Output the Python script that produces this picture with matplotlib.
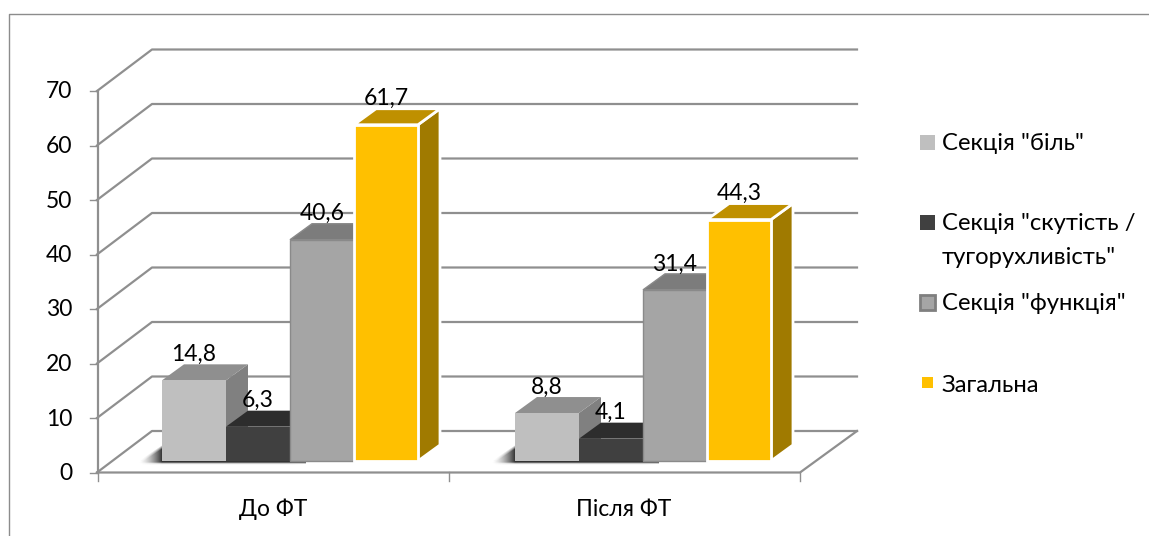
import matplotlib
matplotlib.use("Agg")
import matplotlib.pyplot as plt
import numpy as np
from matplotlib.patches import Polygon, Rectangle

plt.rcParams["font.family"] = ["Lato", "Open Sans", "DejaVu Sans"]

groups = ["До ФТ", "Після ФТ"]
pain = [14.8, 8.8]
stiffness = [6.3, 4.1]
function = [40.6, 31.4]
total = [61.7, 44.3]
y_ticks = [0, 10, 20, 30, 40, 50, 60, 70]
legend_labels = ['Секція "біль"', 'Секція "скутість /\nтугорухливість"', 'Секція "функція"', "Загальна"]

GRID = "#8f8f8f"
FS = 16.5
LEGEND_FS = 17.2
DEPTH_X, DEPTH_Y = 22, -16
GROUP_LEFT = [162, 515]
BAR_W = 64


def axis_y(v):
    return 472.5 - v * 54.5 / 10


def bar_y(v):
    return 461 - v * 5.45


def draw_bar(ax, x, v, front, top, side, edge=None, lw=0):
    y = bar_y(v)
    w = BAR_W
    ec = edge if edge else "none"
    ax.add_patch(Polygon([(x + w, y), (x + w + DEPTH_X, y + DEPTH_Y),
                          (x + w + DEPTH_X, 461 + DEPTH_Y), (x + w, 461)],
                         fc=side, ec=ec, lw=lw, zorder=3))
    ax.add_patch(Polygon([(x, y), (x + DEPTH_X, y + DEPTH_Y),
                          (x + w + DEPTH_X, y + DEPTH_Y), (x + w, y)],
                         fc=top, ec=ec, lw=lw, zorder=3))
    ax.add_patch(Rectangle((x, y), w, 461 - y, fc=front, ec=ec, lw=lw, zorder=3))


def floor_shadow(ax, left):
    # fades out to the left of the group, with a faint band under the bars
    xs = np.arange(left - 24, left + 2 * BAR_W + 16) + 0.5
    ys = np.arange(444, 466) + 0.5
    xx, yy = np.meshgrid(xs, ys)
    u = np.clip((xx - (left - 24)) / 24, 0, 1)
    top_edge = 461 - 16 * u
    a = 0.8 * u ** 1.6 * np.clip((yy - top_edge) / 4, 0, 1) * np.clip((464 - yy) / 2, 0, 1)
    band = 0.22 * np.clip((465 - yy) / 4, 0, 1) * (yy > 460)
    band = band * np.clip((left + 2 * BAR_W + 15 - xx) / 12, 0, 1) * np.clip((xx - left + 22) / 12, 0, 1)
    rgba = np.zeros(xx.shape + (4,))
    rgba[..., 3] = np.maximum(a, band)
    ax.imshow(rgba, extent=(xs[0] - 0.5, xs[-1] + 0.5, ys[-1] + 0.5, ys[0] - 0.5),
              aspect="auto", interpolation="bilinear", zorder=2)


fig = plt.figure(figsize=(11.49, 5.36), dpi=100)
ax = fig.add_axes([0, 0, 1, 1])

# chart frame, runs off the picture on the right and at the bottom
ax.plot([8.5, 8.5, 1149], [536, 13.5, 13.5], color="#8c8c8c", lw=1, zorder=1)

# back wall, side wall and floor
for t in y_ticks:
    y = axis_y(t)
    ax.plot([97, 152, 857], [y, y - 41.5, y - 41.5], color=GRID, lw=1.6, zorder=1)
    ax.plot([90, 97], [y, y], color=GRID, lw=1, zorder=1)
    ax.text(72, y + 1, str(t), ha="right", va="center", fontsize=FS, color="black")
ax.plot([97.5, 97.5], [axis_y(70), axis_y(0)], color=GRID, lw=1.6, zorder=1)
ax.plot([97, 800, 857], [axis_y(0), axis_y(0), axis_y(0) - 41.5], color=GRID, lw=1.6, zorder=1)
for x in [98, 449, 800]:
    ax.plot([x, x], [472, 481], color=GRID, lw=1, zorder=1)

for left in GROUP_LEFT:
    floor_shadow(ax, left)

for i in range(2):
    x = GROUP_LEFT[i]
    draw_bar(ax, x, pain[i], "#bfbfbf", "#8f8f8f", "#808080")
    draw_bar(ax, x + BAR_W, stiffness[i], "#404040", "#2d2d2d", "#333333")
    draw_bar(ax, x + 2 * BAR_W, function[i], "#a5a5a5", "#7c7c7c", "#6f6f6f", edge="#8a8a8a", lw=1)
    draw_bar(ax, x + 3 * BAR_W, total[i], "#ffc000", "#bf9000", "#a07a00", edge="white", lw=2)
    for j, v in enumerate([pain[i], stiffness[i], function[i], total[i]]):
        ax.text(x + j * BAR_W + 32, bar_y(v) - 26, f"{v}".replace(".", ","),
                ha="center", va="center", fontsize=FS, color="black", zorder=5)

ax.text(273, 509, groups[0], ha="center", va="center", fontsize=FS, color="black")
ax.text(624, 509, groups[1], ha="center", va="center", fontsize=FS, color="black")

# legend
ax.add_patch(Rectangle((920, 135), 15, 15, fc="#bfbfbf", ec="none"))
ax.add_patch(Rectangle((920, 215), 15, 15, fc="#404040", ec="none"))
ax.add_patch(Rectangle((920, 295), 15, 15, fc="#a5a5a5", ec="#7f7f7f", lw=2))
ax.add_patch(Rectangle((922, 377), 11, 11, fc="#ffc000", ec="none"))
ax.text(942, 144, legend_labels[0], va="center", fontsize=LEGEND_FS)
first, second = legend_labels[1].split("\n")
ax.text(942, 224, first, va="center", fontsize=LEGEND_FS)
ax.text(942, 257, second, va="center", fontsize=LEGEND_FS)
ax.text(942, 304, legend_labels[2], va="center", fontsize=LEGEND_FS)
ax.text(942, 386, legend_labels[3], va="center", fontsize=LEGEND_FS)

ax.set_xlim(0, 1149)
ax.set_ylim(536, 0)
ax.axis("off")

fig.savefig("out.png", dpi=100)
